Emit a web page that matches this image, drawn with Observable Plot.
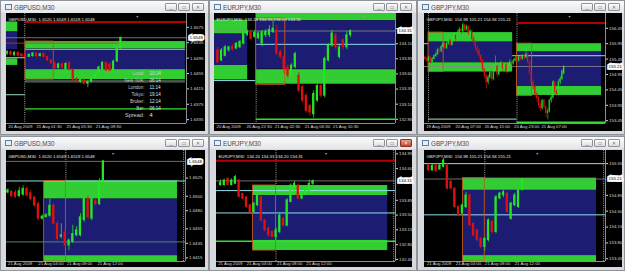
<!DOCTYPE html>
<html><head><meta charset="utf-8">
<script src="https://cdn.jsdelivr.net/npm/d3@7"></script>
<script src="https://cdn.jsdelivr.net/npm/@observablehq/plot@0.6"></script>
<style>
body{margin:0;width:625px;height:271px;overflow:hidden;background:#aeb3b8;font-family:"Liberation Sans",Arial,sans-serif;position:relative}
.win{position:absolute;background:#d7d9dc;border:1px solid #8e949a;box-sizing:border-box}
.title{position:absolute;left:0;right:0;top:0;height:12px;background:linear-gradient(#fbfbfb,#e3e5e8)}
.ttxt{position:absolute;left:13px;top:2.5px;font-size:6.3px;color:#4a4a4a;white-space:nowrap}
.icon{position:absolute;left:4px;top:3px;width:5px;height:4px;border:1px solid #5b7fa6;background:#e6eef8}
.btn{position:absolute;top:2px;width:10px;height:6px;border:1px solid #8f959b;border-radius:1px;background:linear-gradient(#fdfdfd,#d9dce0);font-size:5px;line-height:6px;text-align:center;color:#555}
.btn.red{background:linear-gradient(#e9a090,#c8402c);border-color:#8a3020;color:#fff}
.chart{position:absolute;background:#000}
.chart svg{display:block}
</style></head>
<body>
<script>
// ---------- DATA ----------
// candles: [open, high, low, close]
const p1Candles = [
 [1.6506,1.6515,1.6502,1.6511],[1.6511,1.6514,1.6500,1.6504],[1.6502,1.6512,1.6500,1.6509],[1.6509,1.6511,1.6498,1.6501],
 [1.6505,1.6507,1.6496,1.6500],[1.6503,1.6506,1.6495,1.6498],[1.6498,1.6506,1.6496,1.6504],[1.6500,1.6510,1.6497,1.6507],
 [1.6507,1.6510,1.6497,1.6500],[1.6500,1.6508,1.6498,1.6505],[1.6506,1.6509,1.6496,1.6498],[1.6498,1.6500,1.6486,1.6489],
 [1.6489,1.6492,1.6478,1.6481],[1.6482,1.6485,1.6465,1.6469],[1.6469,1.6482,1.6466,1.6479],[1.6479,1.6483,1.6466,1.6470],
 [1.6466,1.6484,1.6463,1.6480],[1.6482,1.6486,1.6462,1.6465],[1.6465,1.6467,1.6432,1.6437],[1.6440,1.6444,1.6430,1.6433],
 [1.6433,1.6441,1.6430,1.6438],[1.6438,1.6440,1.6425,1.6428],[1.6428,1.6436,1.6418,1.6433],[1.6433,1.6446,1.6431,1.6443],
 [1.6443,1.6455,1.6440,1.6452],[1.6452,1.6474,1.6450,1.6471],[1.6465,1.6486,1.6462,1.6483],[1.6483,1.6485,1.6460,1.6463],
 [1.6479,1.6482,1.6460,1.6462],[1.6462,1.6490,1.6460,1.6486],[1.6486,1.6521,1.6484,1.6519],[1.6520,1.6549,1.6518,1.6548]
];
const p2Candles = [
 [133.99,134.04,133.77,133.79],[133.82,134.02,133.80,133.99],[133.90,134.07,133.88,134.04],[133.99,134.06,133.96,134.04],
 [134.05,134.08,133.98,134.00],[134.02,134.12,134.00,134.10],[134.04,134.15,134.02,134.13],[134.10,134.30,134.08,134.27],
 [134.25,134.33,134.22,134.30],[134.29,134.33,134.15,134.18],[134.21,134.32,134.19,134.28],[134.19,134.30,134.17,134.27],
 [134.10,134.32,134.05,134.29],[134.24,134.33,134.20,134.30],[134.24,134.40,134.20,134.33],[134.29,134.49,134.27,134.35],
 [134.32,134.40,133.90,133.93],[133.96,134.00,133.85,133.88],[133.88,133.90,133.60,133.68],[133.71,133.75,133.52,133.57],
 [133.57,133.77,133.55,133.74],[133.71,133.96,133.68,133.93],[133.57,133.62,133.28,133.32],[133.38,133.42,133.12,133.16],
 [133.24,133.27,132.95,132.99],[133.07,133.10,132.90,132.96],[132.93,133.32,132.87,133.27],[133.16,133.43,133.13,133.40],
 [133.40,133.43,133.20,133.24],[133.24,133.88,133.20,133.85],[133.82,134.10,133.80,134.07],[134.07,134.32,134.04,134.27],
 [134.24,134.27,134.00,134.04],[133.88,134.07,133.85,134.04],[134.16,134.18,133.99,134.04],[134.04,134.30,134.00,134.24],
 [134.24,134.33,134.20,134.31]
];
const p3Candles = [
 [155.50,155.55,155.40,155.45],[155.45,155.52,155.35,155.40],[155.40,155.55,155.37,155.50],[155.50,155.53,155.30,155.35],
 [155.35,155.50,155.32,155.45],[155.45,155.60,155.42,155.55],[155.55,155.68,155.50,155.60],[155.60,155.80,155.57,155.75],
 [155.75,155.82,155.62,155.70],[155.70,155.90,155.66,155.85],[155.85,156.02,155.80,155.95],[155.95,156.00,155.75,155.80],
 [155.80,156.00,155.76,155.95],[155.95,156.12,155.90,156.05],[156.05,156.08,155.85,155.90],[155.90,156.15,155.88,156.10],
 [156.10,156.30,156.05,156.20],[156.20,156.25,156.02,156.10],[156.10,156.38,156.08,156.30],[156.30,156.48,156.25,156.40],
 [156.40,156.45,156.25,156.35],[156.35,156.62,156.30,156.55],[156.55,156.58,156.32,156.40],[156.40,156.56,156.35,156.50],
 [156.50,156.52,156.22,156.30],[156.30,156.42,156.20,156.35],[156.35,156.38,156.02,156.10],[156.10,156.18,155.90,156.00],
 [156.00,156.05,155.72,155.80],[155.80,155.88,155.60,155.70],[155.70,155.78,155.45,155.55],[155.55,155.60,155.30,155.40],
 [155.40,155.45,155.02,155.10],[155.10,155.15,154.80,154.90],[154.90,154.95,154.50,154.70],[154.70,154.92,154.62,154.85],
 [154.85,155.10,154.80,155.00],[155.00,155.05,154.72,154.80],[154.80,155.20,154.75,155.10],[155.10,155.55,155.05,155.20],
 [155.20,155.25,154.85,154.95],[154.95,155.18,154.90,155.10],[155.10,155.38,155.05,155.30],[155.30,155.35,155.05,155.15],
 [155.15,155.32,155.08,155.25],[155.25,155.30,154.95,155.05],[155.05,155.28,155.00,155.20],[155.20,155.42,155.15,155.35],
 [155.35,155.40,155.22,155.30],[155.30,155.46,155.25,155.40],[155.40,155.52,155.35,155.45],[155.45,155.50,155.32,155.40],
 [155.40,155.55,155.35,155.50],[155.50,155.55,155.38,155.45],[155.45,155.60,155.40,155.55],[155.55,155.62,155.42,155.50],
 [155.50,155.75,155.45,155.60],[155.60,155.65,155.30,155.35],[155.35,155.40,154.92,155.00],[155.00,155.05,154.60,154.70],
 [154.70,154.78,154.45,154.55],[154.55,154.60,154.20,154.30],[154.30,154.38,154.05,154.20],[154.20,154.25,153.85,153.95],
 [153.95,154.02,153.75,153.85],[153.85,154.15,153.80,154.10],[154.10,154.15,153.82,153.90],[153.90,153.95,153.55,153.70],
 [153.70,153.85,153.48,153.75],[153.75,154.15,153.70,154.10],[154.10,154.28,154.02,154.20],[154.20,154.75,154.15,154.70],
 [154.70,154.72,154.32,154.40],[154.40,154.45,154.22,154.30],[154.30,154.78,154.25,154.70],[154.70,154.88,154.62,154.80],
 [154.80,155.10,154.75,155.05],[154.98,155.21,154.94,155.21]
];
const p4Candles = [
 [1.6505,1.6510,1.6503,1.6508],[1.6506,1.6508,1.6498,1.6500],[1.6505,1.6508,1.6497,1.6499],[1.6500,1.6512,1.6498,1.6507],
 [1.6502,1.6514,1.6500,1.6510],[1.6510,1.6513,1.6499,1.6501],[1.6504,1.6508,1.6494,1.6496],[1.6498,1.6500,1.6485,1.6487],
 [1.6489,1.6492,1.6466,1.6469],[1.6469,1.6474,1.6467,1.6472],[1.6471,1.6476,1.6470,1.6474],[1.6473,1.6496,1.6471,1.6487],
 [1.6487,1.6490,1.6460,1.6462],[1.6462,1.6465,1.6438,1.6441],[1.6444,1.6462,1.6441,1.6446],[1.6450,1.6455,1.6428,1.6432],
 [1.6432,1.6441,1.6425,1.6439],[1.6437,1.6460,1.6435,1.6448],[1.6446,1.6458,1.6444,1.6453],[1.6446,1.6476,1.6444,1.6471],
 [1.6467,1.6498,1.6464,1.6496],[1.6496,1.6500,1.6468,1.6471],[1.6469,1.6500,1.6466,1.6496],[1.6494,1.6497,1.6487,1.6489],
 [1.6489,1.6524,1.6487,1.6521],[1.6520,1.6549,1.6518,1.6548]
];
const p5Candles = [
 [134.21,134.33,134.18,134.27],[134.21,134.35,134.18,134.32],[134.36,134.38,134.19,134.21],[134.21,134.36,134.19,134.32],
 [134.24,134.44,134.22,134.40],[134.32,134.34,133.90,133.93],[134.00,134.02,133.86,133.89],[133.92,133.94,133.66,133.69],
 [133.73,133.76,133.54,133.57],[133.57,133.80,133.54,133.77],[133.73,134.00,133.70,133.96],[133.93,133.96,133.34,133.37],
 [133.37,133.40,133.10,133.14],[133.18,133.22,132.98,133.02],[133.10,133.12,132.96,132.98],[132.98,133.20,132.90,133.14],
 [133.10,133.55,133.06,133.49],[133.41,133.45,133.22,133.25],[133.25,133.89,133.22,133.85],[133.81,134.24,133.79,134.20],
 [134.08,134.30,134.05,134.24],[134.20,134.24,133.86,133.89],[133.89,134.08,133.86,134.04],[133.99,134.12,133.96,134.08],
 [134.04,134.33,134.02,134.24],[134.24,134.33,134.20,134.31]
];
const p6Candles = [
 [155.51,155.55,155.38,155.40],[155.40,155.53,155.38,155.50],[155.51,155.54,155.36,155.38],[155.42,155.55,155.40,155.51],
 [155.48,155.66,155.45,155.62],[155.51,155.55,154.97,155.00],[155.15,155.18,154.97,155.00],[155.00,155.02,154.56,154.59],
 [154.59,154.62,154.38,154.41],[154.45,154.66,154.42,154.63],[154.59,154.92,154.56,154.85],[154.85,154.88,154.16,154.19],
 [154.22,154.25,153.93,153.97],[154.08,154.10,153.82,153.86],[153.89,153.92,153.68,153.71],[153.71,153.92,153.62,153.89],
 [153.86,154.33,153.82,154.30],[154.26,154.30,154.00,154.04],[154.04,154.85,154.00,154.81],[154.78,154.92,154.75,154.89],
 [154.85,154.96,154.80,154.92],[154.89,154.92,154.45,154.48],[154.33,154.70,154.30,154.67],[154.63,154.90,154.60,154.85],
 [154.59,155.00,154.56,154.96],[154.98,155.21,154.94,155.21]
];

// zones (bar index span, price span)
const p1Zones = [
 {x1:-0.2,x2:2.9,y1:1.6563,y2:1.6589,kind:"green"},{x1:-0.2,x2:2.9,y1:1.6517,y2:1.6563,kind:"blue"},{x1:-0.2,x2:2.9,y1:1.6476,y2:1.6493,kind:"green"},
 {x1:5.0,x2:48.6,y1:1.6519,y2:1.6538,kind:"green"},{x1:5.0,x2:48.6,y1:1.6465,y2:1.6517,kind:"blue"},{x1:5.0,x2:48.6,y1:1.6439,y2:1.6465,kind:"green"}
];
const p2Zones = [
 {x1:-0.9,x2:8.1,y1:134.26,y2:134.49,kind:"green"},{x1:-0.9,x2:8.1,y1:133.74,y2:134.26,kind:"blue"},{x1:-0.9,x2:8.1,y1:133.50,y2:133.74,kind:"green"},
 {x1:10.4,x2:48.2,y1:134.48,y2:134.60,kind:"green"},{x1:10.4,x2:48.2,y1:133.68,y2:134.48,kind:"blue"},{x1:10.4,x2:48.2,y1:133.43,y2:133.67,kind:"green"}
];
const p3Zones = [
 {x1:1.85,x2:48.5,y1:156.00,y2:156.31,kind:"green"},{x1:1.85,x2:48.5,y1:155.33,y2:156.00,kind:"blue"},{x1:1.85,x2:48.5,y1:155.03,y2:155.33,kind:"green"},
 {x1:50.9,x2:97.8,y1:155.68,y2:155.95,kind:"green"},{x1:50.9,x2:97.8,y1:154.56,y2:155.68,kind:"blue"},{x1:50.9,x2:97.8,y1:154.27,y2:154.56,kind:"green"}
];
const p4Zones = [
 {x1:9.5,x2:44.4,y1:1.6496,y2:1.6521,kind:"green"},{x1:9.5,x2:44.4,y1:1.6418,y2:1.6496,kind:"blue"},{x1:9.5,x2:44.4,y1:1.6410,y2:1.6418,kind:"green"}
];
const p5Zones = [
 {x1:8.8,x2:45.2,y1:133.96,y2:134.20,kind:"green"},{x1:8.8,x2:45.2,y1:132.90,y2:133.96,kind:"blue"},{x1:8.8,x2:45.2,y1:132.66,y2:132.90,kind:"green"}
];
const p6Zones = [
 {x1:9.2,x2:44.8,y1:154.96,y2:155.23,kind:"green"},{x1:9.2,x2:44.8,y1:153.52,y2:154.96,kind:"blue"},{x1:9.2,x2:44.8,y1:153.39,y2:153.52,kind:"green"}
];

// opening-range boxes
const p1Boxes = [{x1:5.0,x2:12.7,y1:1.6439,y2:1.6538}];
const p2Boxes = [{x1:10.4,x2:18.3,y1:133.42,y2:134.52}];
const p3Boxes = [{x1:1.85,x2:10.2,y1:155.03,y2:156.31},{x1:50.9,x2:59.3,y1:154.25,y2:155.95}];
const p4Boxes = [{x1:9.5,x2:15.2,y1:1.6410,y2:1.6521}];
const p5Boxes = [{x1:8.8,x2:15.0,y1:132.66,y2:134.20}];
const p6Boxes = [{x1:9.2,x2:15.0,y1:153.39,y2:155.23}];

// horizontal levels
const p1Levels = [
 {y:1.6589,x1:5.0,x2:48.9,kind:"red"},{y:1.6534,x1:-0.2,x2:30.9,kind:"redthin"},{y:1.6548,x1:-0.2,x2:48.9,kind:"price"},
 {y:1.6518,x1:5.0,x2:48.6,kind:"cyan"},{y:1.6496,x1:-0.2,x2:5.0,kind:"cyan"},{y:1.6436,x1:5.0,x2:48.6,kind:"price"},
 {y:1.6433,x1:5.0,x2:48.6,kind:"dimgreen"},{y:1.6363,x1:5.0,x2:48.9,kind:"green"},{y:1.6400,x1:-0.2,x2:5.0,kind:"pale"}
];
const p2Levels = [
 {y:133.49,x1:-0.9,x2:10.4,kind:"cyan"},{y:134.09,x1:10.4,x2:48.2,kind:"cyan"},{y:134.31,x1:-0.9,x2:48.2,kind:"price"},
 {y:132.85,x1:10.4,x2:48.2,kind:"green"}
];
const p3Levels = [
 {y:156.62,x1:50.9,x2:100,kind:"red"},{y:155.56,x1:48.5,x2:100,kind:"cyan"},{y:155.95,x1:-0.4,x2:1.85,kind:"cyan"},
 {y:155.21,x1:-0.4,x2:100,kind:"price"},{y:153.50,x1:1.85,x2:50.9,kind:"pale"},{y:153.40,x1:50.9,x2:100,kind:"green"}
];
const p4Levels = [
 {y:1.6548,x1:-0.35,x2:46.5,kind:"price"},{y:1.6521,x1:-0.35,x2:46.5,kind:"cyan"},{y:1.6437,x1:-0.35,x2:46.5,kind:"dimgreen"}
];
const p5Levels = [
 {y:134.79,x1:-1.1,x2:47.3,kind:"red"},{y:134.31,x1:-1.1,x2:47.3,kind:"price"},{y:134.08,x1:-1.1,x2:47.3,kind:"cyan"},
 {y:133.55,x1:-1.1,x2:47.3,kind:"cyan"},{y:132.88,x1:-1.1,x2:47.3,kind:"green"}
];
const p6Levels = [
 {y:155.55,x1:-1.1,x2:47.2,kind:"cyan"},{y:155.21,x1:-1.1,x2:47.2,kind:"price"},{y:154.42,x1:-1.1,x2:47.2,kind:"cyan"}
];

// period separators (bar index)
const p1Seps = [4.8], p2Seps = [10.4], p3Seps = [1.85, 50.9], p4Seps = [15.2, 46.0], p5Seps = [15.0, 46.8], p6Seps = [15.0, 46.7];
// chart-shift markers (bar index)
const shiftMarks = [35.5, 39.5, 80.0, 27.5, 28.5, 29.0];

// y tick labels
const p1YTicks = [1.6575,1.6535,1.6495,1.6455,1.6415,1.6375,1.6335];
const p2YTicks = [134.35,134.10,133.85,133.60,133.35,133.10,132.85];
const p3YTicks = [156.45,155.95,155.45,154.95,154.45,153.95,153.45];
const p4YTicks = [1.6525,1.6500,1.6480,1.6455,1.6435,1.6415];
const p5YTicks = [134.95,134.60,133.85,133.50,133.15,132.80,132.45];
const p6YTicks = [155.55,154.85,154.50,154.15,153.80,153.45];

// x tick labels (bar index, text)
const p1XTicks = [{i:0,t:"20 Aug 2009"},{i:7.7,t:"21 Aug 01:30"},{i:15.9,t:"21 Aug 05:30"},{i:23.9,t:"21 Aug 09:30"}];
const p2XTicks = [{i:-0.6,t:"20 Aug 2009"},{i:7.5,t:"20 Aug 22:30"},{i:15.2,t:"21 Aug 02:30"},{i:23.3,t:"21 Aug 06:30"},{i:31,t:"21 Aug 10:30"}];
const p3XTicks = [{i:0,t:"19 Aug 2009"},{i:16.3,t:"20 Aug 07:00"},{i:32.4,t:"20 Aug 15:00"},{i:48.7,t:"20 Aug 23:00"},{i:63.9,t:"21 Aug 07:00"}];
const p4XTicks = [{i:-0.2,t:"21 Aug 2009"},{i:7.7,t:"21 Aug 04:00"},{i:15.2,t:"21 Aug 08:00"},{i:23.2,t:"21 Aug 12:00"}];
const p5XTicks = [{i:-0.9,t:"21 Aug 2009"},{i:6.8,t:"21 Aug 04:00"},{i:15,t:"21 Aug 08:00"},{i:22.9,t:"21 Aug 12:00"}];
const p6XTicks = [{i:-0.7,t:"21 Aug 2009"},{i:7,t:"21 Aug 04:00"},{i:14.8,t:"21 Aug 08:00"},{i:22.7,t:"21 Aug 12:00"}];

const headers = ["GBPUSD,M30  1.6520 1.6549 1.6518 1.6548","EURJPY,M30  134.24 134.33 134.20 134.31","GBPJPY,M30  154.98 155.21 154.94 155.21"];
const titles = ["GBPUSD,M30","EURJPY,M30","GBPJPY,M30"];
const lastPrices = [1.6548, 134.31, 155.21];
const clockLabels = ["Local:","New York:","London:","Tokyo:","Broker:","Bar:"];
const clockValues = ["10:14","06:14","11:14","19:14","12:14","06:14"];
const spreadLabel = "Spread:", spreadValue = "4";

// ---------- STYLE ----------
const UP="#22e622", DOWN="#e01010";
const ZONE={green:"#32cd32", blue:"#1c1c72"};
const LINE={red:"#b40000", redthin:"#c0401c", price:"#8a8a8a", cyan:"#8fe0ea", green:"#30e030", dimgreen:"#4f8a62", pale:"#7fb89a"};
const LINEW={red:2, redthin:0.8, price:0.8, cyan:1, green:1.3, dimgreen:1, pale:1.2};
const FONT='"Liberation Sans", Arial, sans-serif';

function panel(cfg){
  const bw = cfg.bodyHalf;
  const marks = [
    Plot.ruleX(cfg.seps, {x:d=>d, stroke:"#e8e8e8", strokeWidth:0.7, strokeDasharray:"1,1.2"}),
    Plot.rect(cfg.zones, {x1:"x1", x2:"x2", y1:"y1", y2:"y2", fill:d=>ZONE[d.kind]}),
    Plot.ruleY(cfg.levels, {y:"y", x1:"x1", x2:"x2", stroke:d=>LINE[d.kind], strokeWidth:d=>LINEW[d.kind]}),
    Plot.rect(cfg.boxes, {x1:"x1", x2:"x2", y1:"y1", y2:"y2", fill:"none", stroke:"#c4581c", strokeWidth:0.9}),
    Plot.ruleX(cfg.candles, {x:(d,i)=>i, y1:d=>d[2], y2:d=>d[1], stroke:d=>d[3]>=d[0]?UP:DOWN, strokeWidth:cfg.wick}),
    Plot.rect(cfg.candles, {x1:(d,i)=>i-bw, x2:(d,i)=>i+bw, y1:d=>d[0], y2:d=>d[3], fill:d=>d[3]>=d[0]?UP:DOWN, insetTop:-0.4, insetBottom:-0.4}),
    Plot.ruleX([cfg.xDomain[1]], {stroke:"#c8c8c8", strokeWidth:0.7}),
    Plot.ruleY([cfg.yDomain[0]], {stroke:"#c8c8c8", strokeWidth:0.7}),
    Plot.text([cfg.shift], {x:d=>d, text:()=>"\u25BC", frameAnchor:"top", dy:1.5, fill:"#9a9a9a", fontSize:3.6}),
    Plot.axisY({anchor:"right", ticks:cfg.yTicks, tickFormat:d=>d.toFixed(cfg.dec), tickSize:2, tickPadding:1.5, fontSize:4.4, color:"#d8d8d8", label:null}),
    Plot.text([cfg.last], {y:d=>d, text:d=>d.toFixed(cfg.dec), frameAnchor:"right", dx:3, textAnchor:"start", fill:"#000", stroke:"#fff", strokeWidth:3.4, strokeLinejoin:"miter", fontSize:4.4}),
    Plot.text(cfg.xTicks, {x:"i", text:"t", frameAnchor:"bottom", dy:cfg.xdy, dx:1, textAnchor:"start", fill:"#d8d8d8", fontSize:4.3}),
    Plot.text([cfg.header], {text:d=>d, frameAnchor:"top-left", dx:2, dy:4, textAnchor:"start", fill:"#e8e8e8", fontSize:4.3}),
    ...(cfg.extra || [])
  ];
  return Plot.plot({
    width: cfg.w, height: cfg.h,
    marginTop:0, marginLeft:0, marginRight:cfg.mr, marginBottom:cfg.mb,
    style:{background:"#000", color:"#d8d8d8", fontFamily:FONT, overflow:"visible"},
    x:{type:"linear", domain:cfg.xDomain, axis:null},
    y:{type:"linear", domain:cfg.yDomain},
    color:{type:"identity"},
    marks
  });
}

// clock overlay for the first panel
const clockMarks = [];
clockLabels.forEach((t,k)=>{
  clockMarks.push(Plot.text([t], {text:d=>d, frameAnchor:"top-left", dx:138, dy:58+7*k, textAnchor:"end", fill:"#c8c8c8", fontSize:4.5}));
  clockMarks.push(Plot.text([clockValues[k]], {text:d=>d, frameAnchor:"top-left", dx:143, dy:58+7*k, textAnchor:"start", fill:"#e0e0e0", fontSize:4.5}));
});
clockMarks.push(Plot.text([spreadLabel], {text:d=>d, frameAnchor:"top-left", dx:138, dy:100, textAnchor:"end", fill:"#d0d0d0", fontSize:5.6}));
clockMarks.push(Plot.text([spreadValue], {text:d=>d, frameAnchor:"top-left", dx:143, dy:100, textAnchor:"start", fill:"#e8e8e8", fontSize:5.6}));

const panels = [
 {pos:[6,13],  w:199,h:118,mr:19,mb:8,xdy:4.2, candles:p1Candles, zones:p1Zones, boxes:p1Boxes, levels:p1Levels, seps:p1Seps, yTicks:p1YTicks, xTicks:p1XTicks,
  xDomain:[-0.18,48.9], yDomain:[1.6325,1.6611], dec:4, last:lastPrices[0], header:headers[0], bodyHalf:0.3, wick:0.8, shift:shiftMarks[0], extra:clockMarks},
 {pos:[214,13],w:198,h:118,mr:17,mb:8,xdy:4.2, candles:p2Candles, zones:p2Zones, boxes:p2Boxes, levels:p2Levels, seps:p2Seps, yTicks:p2YTicks, xTicks:p2XTicks,
  xDomain:[-0.9,48.2], yDomain:[132.78,134.60], dec:2, last:lastPrices[1], header:headers[1], bodyHalf:0.3, wick:0.8, shift:shiftMarks[1]},
 {pos:[424,13],w:198,h:118,mr:17,mb:8,xdy:4.2, candles:p3Candles, zones:p3Zones, boxes:p3Boxes, levels:p3Levels, seps:p3Seps, yTicks:p3YTicks, xTicks:p3XTicks,
  xDomain:[-0.4,100], yDomain:[153.36,156.93], dec:2, last:lastPrices[2], header:headers[2], bodyHalf:0.3, wick:0.6, shift:shiftMarks[2]},
 {pos:[6,150], w:199,h:117,mr:20,mb:6,xdy:3.4, candles:p4Candles, zones:p4Zones, boxes:p4Boxes, levels:p4Levels, seps:p4Seps, yTicks:p4YTicks, xTicks:p4XTicks,
  xDomain:[-0.35,46.5], yDomain:[1.6410,1.6563], dec:4, last:lastPrices[0], header:headers[0], bodyHalf:0.3, wick:0.8, shift:shiftMarks[3]},
 {pos:[216,150],w:196,h:117,mr:17,mb:6,xdy:3.4, candles:p5Candles, zones:p5Zones, boxes:p5Boxes, levels:p5Levels, seps:p5Seps, yTicks:p5YTicks, xTicks:p5XTicks,
  xDomain:[-1.09,47.3], yDomain:[132.40,135.03], dec:2, last:lastPrices[1], header:headers[1], bodyHalf:0.3, wick:0.8, shift:shiftMarks[4]},
 {pos:[424,150],w:198,h:117,mr:17,mb:6,xdy:3.4, candles:p6Candles, zones:p6Zones, boxes:p6Boxes, levels:p6Levels, seps:p6Seps, yTicks:p6YTicks, xTicks:p6XTicks,
  xDomain:[-1.08,47.2], yDomain:[153.39,155.84], dec:2, last:lastPrices[2], header:headers[2], bodyHalf:0.3, wick:0.8, shift:shiftMarks[5]}
];

// window chrome
const wins = [
 {l:0,t:0,w:209,h:135,title:titles[0]},{l:209,t:0,w:208,h:135,title:titles[1]},{l:417,t:0,w:208,h:135,title:titles[2]},
 {l:0,t:136,w:209,h:135,title:titles[0]},{l:209,t:136,w:208,h:135,title:titles[1],active:true},{l:417,t:136,w:208,h:135,title:titles[2]}
];
wins.forEach(wd=>{
  const d=document.createElement("div"); d.className="win";
  Object.assign(d.style,{left:wd.l+"px",top:wd.t+"px",width:wd.w+"px",height:wd.h+"px"});
  d.innerHTML=`<div class="title"><div class="icon"></div><div class="ttxt">${wd.title}</div>
   <div class="btn" style="right:31px">_</div><div class="btn" style="right:18px">&#9633;</div>
   <div class="btn${wd.active?' red':''}" style="right:4px">&#215;</div></div>`;
  document.body.appendChild(d);
});
panels.forEach(cfg=>{
  const c=document.createElement("div"); c.className="chart";
  Object.assign(c.style,{left:cfg.pos[0]+"px",top:cfg.pos[1]+"px",width:cfg.w+"px",height:cfg.h+"px"});
  c.appendChild(panel(cfg));
  document.body.appendChild(c);
});
</script>
</body></html>
